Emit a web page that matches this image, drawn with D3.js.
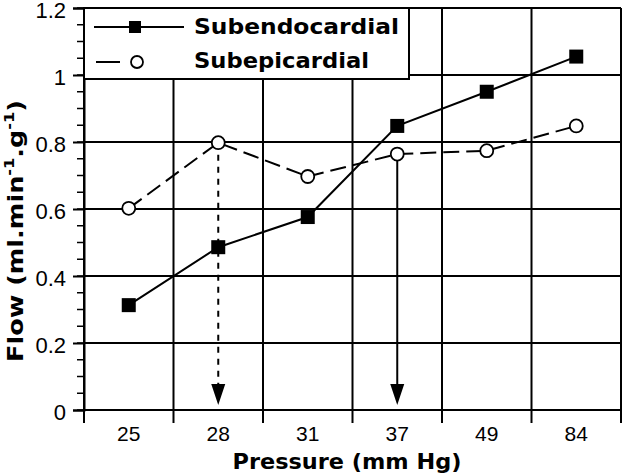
<!DOCTYPE html>
<html><head><meta charset="utf-8">
<script src="https://cdn.jsdelivr.net/npm/d3@7"></script>
<style>body{margin:0;background:#fff}svg{display:block}</style>
</head><body>
<svg id="c" width="622" height="474"></svg>
<script>
const categories = ["25","28","31","37","49","84"];
const subendo = [0.313, 0.486, 0.576, 0.848, 0.95, 1.055];
const subepi = [0.602, 0.798, 0.697, 0.764, 0.774, 0.848];
const yTicks = [0, 0.2, 0.4, 0.6, 0.8, 1, 1.2];
const yMinorTicks = d3.range(0, 1.2001, 0.05);
const legendLabels = ["Subendocardial", "Subepicardial"];

const svg = d3.select("#c");
const L = 84, R = 621, T = 8, B = 410;
const x = d3.scaleBand().domain(categories).range([L, R]);
const y = d3.scaleLinear().domain([0, 1.2]).range([B, T]);
const cx = d => x(d) + x.bandwidth() / 2;

// gridlines
const g = svg.append("g").attr("stroke", "#000").attr("stroke-width", 2);
yTicks.forEach(t => g.append("line").attr("x1", L).attr("x2", R).attr("y1", y(t)).attr("y2", y(t)));
categories.forEach(c => {
  g.append("line").attr("x1", x(c)).attr("x2", x(c)).attr("y1", T).attr("y2", B + 13);
});
g.append("line").attr("x1", R).attr("x2", R).attr("y1", T).attr("y2", B + 13);

// y axis
const ya = svg.append("g").attr("transform", `translate(${L},0)`)
  .call(d3.axisLeft(y).tickValues(yTicks).tickFormat(d => d === 0 ? "0" : d3.format("~g")(d)).tickSize(11).tickPadding(7));
ya.select(".domain").attr("stroke-width", 2);
ya.selectAll(".tick line").attr("stroke-width", 2);
ya.selectAll("text").attr("font-family", "Liberation Sans, Arial, sans-serif").attr("font-size", 22).attr("fill", "#000").attr("dy", "0.42em");
svg.append("g").attr("stroke", "#000").attr("stroke-width", 1.5)
  .selectAll("line").data(yMinorTicks).join("line")
  .attr("x1", L - 7).attr("x2", L).attr("y1", d => y(d)).attr("y2", d => y(d));

// x labels
svg.append("g").selectAll("text").data(categories).join("text")
  .attr("x", d => cx(d)).attr("y", 441).attr("text-anchor", "middle")
  .attr("font-family", "Liberation Sans, Arial, sans-serif").attr("font-size", 21).text(d => d);

// axis titles
svg.append("text").attr("x", 347).attr("y", 469).attr("text-anchor", "middle")
  .attr("font-family", "DejaVu Sans, Verdana, sans-serif").attr("font-weight", "bold").attr("font-size", 21)
  .attr("textLength", 229).attr("lengthAdjust", "spacingAndGlyphs")
  .text("Pressure (mm Hg)");
const yt = svg.append("text").attr("transform", "translate(23,231) rotate(-90)").attr("text-anchor", "middle")
  .attr("font-family", "DejaVu Sans, Verdana, sans-serif").attr("font-weight", "bold").attr("font-size", 22)
  .attr("textLength", 262).attr("lengthAdjust", "spacingAndGlyphs");
yt.append("tspan").text("Flow (ml.min");
yt.append("tspan").attr("font-size", 14).attr("dy", -9).text("-1");
yt.append("tspan").attr("dy", 9).text(".g");
yt.append("tspan").attr("font-size", 14).attr("dy", -9).text("-1");
yt.append("tspan").attr("dy", 9).text(")");

// arrows
function arrow(cat, val, dash) {
  const xx = cx(cat);
  svg.append("line").attr("x1", xx).attr("x2", xx).attr("y1", y(val)).attr("y2", y(0) - 16)
    .attr("stroke", "#000").attr("stroke-width", 2).attr("stroke-dasharray", dash);
  svg.append("path").attr("d", `M${xx - 7},${y(0) - 26} L${xx + 7},${y(0) - 26} L${xx},${y(0) - 5} Z`).attr("fill", "#000");
}
arrow("28", subepi[1], "6,6");
arrow("37", subepi[3], null);

// lines
const line = d3.line().x((d, i) => cx(categories[i])).y(d => y(d));
svg.append("path").datum(subepi).attr("d", line).attr("fill", "none").attr("stroke", "#000").attr("stroke-width", 2).attr("stroke-dasharray", "16,7");
svg.append("path").datum(subendo).attr("d", line).attr("fill", "none").attr("stroke", "#000").attr("stroke-width", 2);
svg.append("g").selectAll("circle").data(subepi).join("circle")
  .attr("cx", (d, i) => cx(categories[i])).attr("cy", d => y(d)).attr("r", 6.5)
  .attr("fill", "#fff").attr("stroke", "#000").attr("stroke-width", 1.8);
svg.append("g").selectAll("rect").data(subendo).join("rect")
  .attr("x", (d, i) => cx(categories[i]) - 7).attr("y", d => y(d) - 7).attr("width", 14).attr("height", 14).attr("fill", "#000");

// legend
const lg = svg.append("g");
lg.append("rect").attr("x", L).attr("y", T).attr("width", 325).attr("height", 71).attr("fill", "#fff").attr("stroke", "#000").attr("stroke-width", 2);
lg.append("line").attr("x1", 94).attr("x2", 184).attr("y1", 27).attr("y2", 27).attr("stroke", "#000").attr("stroke-width", 2);
lg.append("rect").attr("x", 129).attr("y", 21).attr("width", 12).attr("height", 12).attr("fill", "#000");
lg.append("line").attr("x1", 96).attr("x2", 180).attr("y1", 62).attr("y2", 62).attr("stroke", "#000").attr("stroke-width", 2).attr("stroke-dasharray", "24,13,0,47,24");
lg.append("circle").attr("cx", 137).attr("cy", 62).attr("r", 6).attr("fill", "#fff").attr("stroke", "#000").attr("stroke-width", 1.8);
lg.selectAll("text.lt").data(legendLabels).join("text")
  .attr("x", 194).attr("y", (d, i) => 34 + i * 34)
  .attr("font-family", "DejaVu Sans, Verdana, sans-serif").attr("font-weight", "bold").attr("font-size", 21)
  .attr("textLength", (d, i) => i === 0 ? 205 : 175).attr("lengthAdjust", "spacingAndGlyphs")
  .text(d => d);
</script>
</body></html>
